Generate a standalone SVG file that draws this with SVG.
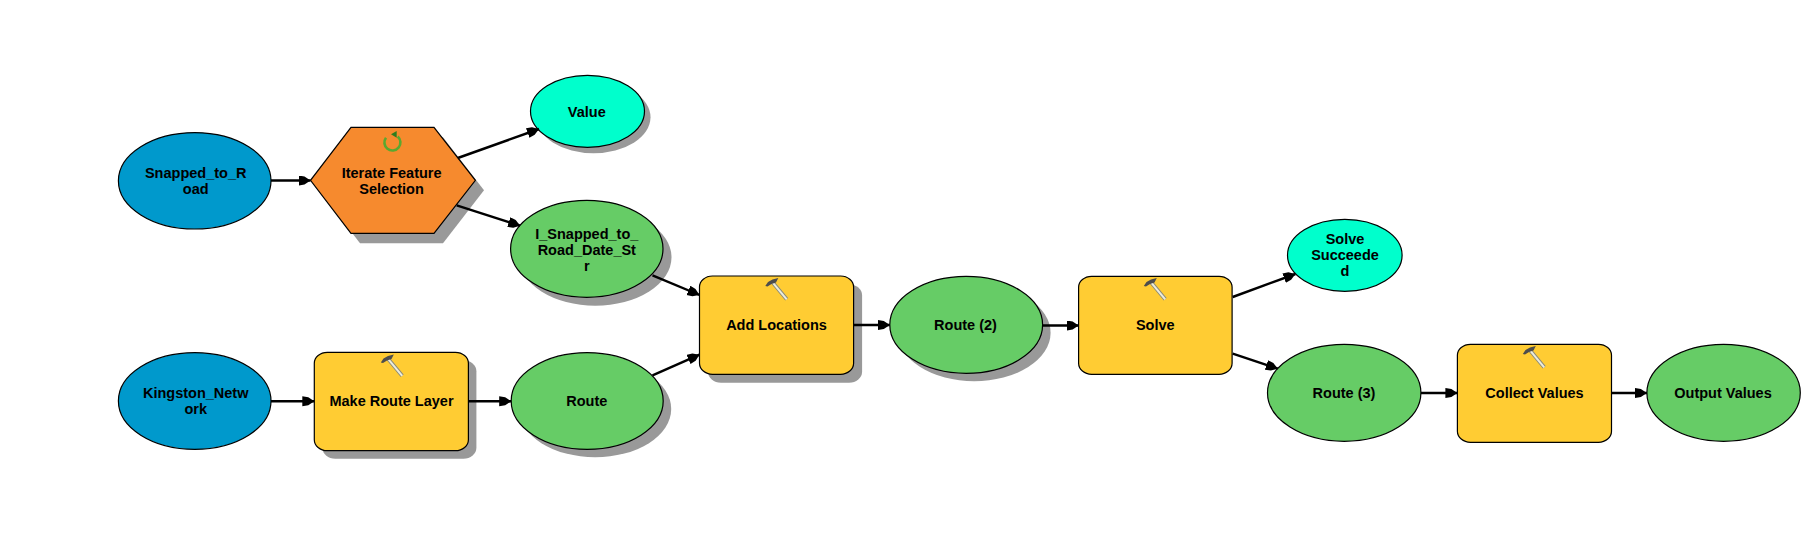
<svg xmlns="http://www.w3.org/2000/svg" width="1815" height="544" viewBox="0 0 1815 544">
<style>
text{font-family:"Liberation Sans",Arial,sans-serif;font-weight:bold;font-size:14.5px;fill:#000;text-anchor:middle}
.s{fill:#999}
.o{stroke:#000;stroke-width:1.2}
.blue{fill:#0099cc}.green{fill:#66cc66}.teal{fill:#00ffcc}.yellow{fill:#ffcc33}.orange{fill:#f68a2e}
#connectors line{stroke:#000;stroke-width:2.4;marker-end:url(#arrow)}
</style>
<defs>
<marker id="arrow" markerUnits="userSpaceOnUse" markerWidth="13" markerHeight="11" refX="12" refY="5" orient="auto">
<path d="M0,0L6,1L12,5L6,9L0,10z" fill="#000"/>
</marker>
<g id="hammer">
<path d="M-3.8,-7.2L11.2,10.8" stroke="#8a8a7a" stroke-width="3.8" fill="none"/>
<path d="M-3.8,-7.2L11.2,10.8" stroke="#ededdc" stroke-width="2" fill="none"/>
<path d="M-10.2,-2.5L-7.5,-6.5L-3,-9L2.8,-10.5L0.5,-6L-4,-4.5L-8,-2z" fill="#4d4d4d"/>
</g>
</defs>
<rect width="1815" height="544" fill="#fff"/>
<g id="node-snapped"><ellipse class="blue o" cx="194.7" cy="180.8" rx="76.3" ry="48.2"/><text x="195.7" y="178">Snapped_to_R</text><text x="195.7" y="194">oad</text></g>
<g id="node-iterate"><path class="s" d="M360,137.3H443L484,190.3L443,243.3H360L319.5,190.3z"/><path class="orange o" d="M351,127.3H434L475.4,180.3L434,233.3H351L310.5,180.3z"/>
<path d="M386,137.7A8,8 0 1 0 397.7,136.5" fill="none" stroke="#5aa830" stroke-width="2.6"/><path d="M391,134.3L396.7,131V137.7z" fill="#2f7d1e"/>
<text x="391.6" y="178">Iterate Feature</text><text x="391.6" y="194">Selection</text></g>
<g id="node-value"><ellipse class="s" cx="593.5" cy="117.3" rx="57" ry="36"/><ellipse class="teal o" cx="587.5" cy="111.3" rx="57" ry="36"/><text x="586.8" y="117">Value</text></g>
<g id="node-isnapped"><ellipse class="s" cx="595.3" cy="257.3" rx="76.2" ry="48.5"/><ellipse class="green o" cx="586.8" cy="248.8" rx="76.2" ry="48.5"/><text x="586.8" y="238.5">I_Snapped_to_</text><text x="586.8" y="254.5">Road_Date_St</text><text x="586.8" y="270.5">r</text></g>
<g id="node-kingston"><ellipse class="blue o" cx="194.7" cy="401" rx="76.3" ry="48.3"/><text x="195.7" y="398">Kingston_Netw</text><text x="195.7" y="414">ork</text></g>
<g id="node-makeroute"><rect class="s" x="322.3" y="360.3" width="154.1" height="98.4" rx="13" ry="11"/><rect class="yellow o" x="314.3" y="352.3" width="154.1" height="98.4" rx="13" ry="11"/><use href="#hammer" x="391" y="365"/><text x="391.5" y="406">Make Route Layer</text></g>
<g id="node-route"><ellipse class="s" cx="595.2" cy="409" rx="76" ry="48.3"/><ellipse class="green o" cx="587.2" cy="401" rx="76" ry="48.3"/><text x="586.8" y="406">Route</text></g>
<g id="node-addloc"><rect class="s" x="708" y="284.4" width="154.1" height="98.3" rx="13" ry="11"/><rect class="yellow o" x="699.5" y="276" width="154.1" height="98.3" rx="13" ry="11"/><use href="#hammer" x="775.5" y="288.5"/><text x="776.5" y="330">Add Locations</text></g>
<g id="node-route2"><ellipse class="s" cx="974.2" cy="332.8" rx="76.4" ry="48.5"/><ellipse class="green o" cx="966.2" cy="324.8" rx="76.4" ry="48.5"/><text x="965.5" y="330.3">Route (2)</text></g>
<g id="node-solve"><rect class="yellow o" x="1078.6" y="276.3" width="153.5" height="98" rx="13" ry="11"/><use href="#hammer" x="1154" y="288.5"/><text x="1155.3" y="330.3">Solve</text></g>
<g id="node-solvesucceeded"><ellipse class="teal o" cx="1344.8" cy="255.3" rx="57.3" ry="36"/><text x="1345" y="244.3">Solve</text><text x="1345" y="260.3">Succeede</text><text x="1345" y="276.3">d</text></g>
<g id="node-route3"><ellipse class="green o" cx="1344.2" cy="392.8" rx="76.7" ry="48.5"/><text x="1344" y="398.3">Route (3)</text></g>
<g id="node-collect"><rect class="yellow o" x="1457.4" y="344.3" width="154.1" height="98" rx="13" ry="11"/><use href="#hammer" x="1533" y="356.5"/><text x="1534.5" y="398.3">Collect Values</text></g>
<g id="node-output"><ellipse class="green o" cx="1723.6" cy="392.8" rx="76.7" ry="48.5"/><text x="1723" y="398.3">Output Values</text></g>
<g id="connectors">
<line x1="271" y1="180.5" x2="310.5" y2="180.5"/>
<line x1="457.8" y1="158" x2="539" y2="129"/>
<line x1="456.7" y1="205.3" x2="520.2" y2="225.7"/>
<line x1="652.5" y1="275.3" x2="699.5" y2="295"/>
<line x1="652.5" y1="375.3" x2="699.5" y2="354.7"/>
<line x1="271" y1="401.3" x2="314.3" y2="401.3"/>
<line x1="468.4" y1="401.3" x2="511.2" y2="401.3"/>
<line x1="853.6" y1="325" x2="889.8" y2="325"/>
<line x1="1042.7" y1="325.5" x2="1078.6" y2="325.5"/>
<line x1="1232.7" y1="297" x2="1295.4" y2="274"/>
<line x1="1232.7" y1="353.7" x2="1277.8" y2="368.7"/>
<line x1="1420.9" y1="393" x2="1457.4" y2="393"/>
<line x1="1611.5" y1="393" x2="1646.9" y2="393"/>
</g>
</svg>
